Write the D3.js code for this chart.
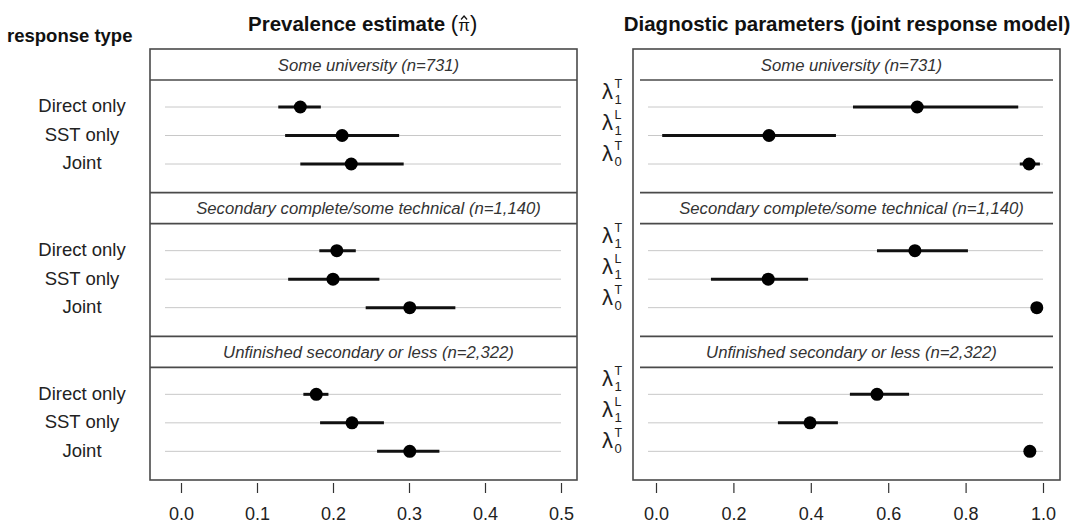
<!DOCTYPE html>
<html>
<head>
<meta charset="utf-8">
<script src="https://cdn.jsdelivr.net/npm/d3@7"></script>
<style>
  html, body { margin: 0; padding: 0; background: #fff; }
  svg { display: block; font-family: "Liberation Sans", Arial, sans-serif; }
  .frame { fill: none; stroke: #4a4a4a; stroke-width: 1.6; }
  .sep { stroke: #4a4a4a; stroke-width: 1.6; }
  .guide { stroke: #c8c8c8; stroke-width: 1; }
  .ci { stroke: #111; stroke-width: 3; }
  .strip { font-style: italic; font-size: 16.7px; fill: #333; }
  .tick line { stroke: #333; stroke-width: 1.2; }
  .tick text { font-size: 18px; fill: #222; }
</style>
</head>
<body>
<svg id="chart" width="1077" height="527"></svg>
<script>
// education groups (panels) and rows
var groups = [
  'Some university (n=731)',
  'Secondary complete/some technical (n=1,140)',
  'Unfinished secondary or less (n=2,322)'
];
var responseTypes = ['Direct only', 'SST only', 'Joint'];
// diagnostic parameters: lambda with subscript / superscript
var paramSub = ['1', '1', '0'];
var paramSup = ['T', 'L', 'T'];

// prevalence estimates per group, rows in responseTypes order
var prevEst = [[0.157, 0.212, 0.224], [0.205, 0.200, 0.301], [0.178, 0.225, 0.301]];
var prevLo  = [[0.128, 0.137, 0.157], [0.182, 0.141, 0.243], [0.161, 0.183, 0.258]];
var prevHi  = [[0.184, 0.287, 0.293], [0.230, 0.261, 0.361], [0.194, 0.267, 0.340]];

// diagnostic parameter estimates per group
var paramEst = [[0.675, 0.292, 0.964], [0.669, 0.290, 0.984], [0.571, 0.398, 0.966]];
var paramLo  = [[0.509, 0.016, 0.940], [0.571, 0.142, 0.975], [0.501, 0.315, 0.955]];
var paramHi  = [[0.936, 0.465, 0.992], [0.806, 0.393, 0.992], [0.654, 0.470, 0.978]];

var prevTicks = [0, 0.1, 0.2, 0.3, 0.4, 0.5];
var paramTicks = [0, 0.2, 0.4, 0.6, 0.8, 1.0];

var svg = d3.select('#chart');
var plotTop = 49, plotBottom = 480, stripH = 31;

var yPanel = d3.scaleBand().domain(d3.range(groups.length)).range([plotTop, plotBottom]);
var yRow = d3.scalePoint().domain(d3.range(responseTypes.length)).range([58, 115]);
// lambda labels sit a bit higher and spread a little wider than the rows
var yLab = d3.scalePoint().domain(d3.range(paramSub.length)).range([50, 112]);

function rowsFor(est, lo, hi) {
  var out = [];
  groups.forEach(function (g, gi) {
    responseTypes.forEach(function (r, ri) {
      out.push({ g: gi, r: ri, est: est[gi][ri], lo: lo[gi][ri], hi: hi[gi][ri],
        y: yPanel(gi) + yRow(ri) });
    });
  });
  return out;
}

function drawPanel(opt) {
  var x = d3.scaleLinear().domain(opt.domain).range(opt.range);
  var g = svg.append('g');
  var data = rowsFor(opt.est, opt.lo, opt.hi);

  // frame
  g.append('rect').attr('class', 'frame')
    .attr('x', opt.left).attr('y', plotTop)
    .attr('width', opt.right - opt.left).attr('height', plotBottom - plotTop);

  // panel separators + strip lines
  groups.forEach(function (name, gi) {
    var t = yPanel(gi);
    if (gi > 0) {
      g.append('line').attr('class', 'sep')
        .attr('x1', opt.left + opt.inset).attr('x2', opt.right - opt.inset)
        .attr('y1', t).attr('y2', t);
    }
    g.append('line').attr('class', 'sep')
      .attr('x1', opt.left + opt.inset).attr('x2', opt.right - opt.inset)
      .attr('y1', t + stripH).attr('y2', t + stripH);
    g.append('text').attr('class', 'strip')
      .attr('x', (opt.left + opt.right) / 2 + 5).attr('y', t + stripH / 2)
      .attr('dy', '0.36em').attr('text-anchor', 'middle').text(name);
  });

  // guide lines
  g.selectAll('line.guide').data(data).join('line').attr('class', 'guide')
    .attr('x1', x(0) - opt.guidePad).attr('x2', x(opt.domain[1]))
    .attr('y1', function (d) { return d.y; }).attr('y2', function (d) { return d.y; });

  // intervals
  g.selectAll('line.ci').data(data).join('line').attr('class', 'ci')
    .attr('x1', function (d) { return x(d.lo); }).attr('x2', function (d) { return x(d.hi); })
    .attr('y1', function (d) { return d.y; }).attr('y2', function (d) { return d.y; });

  // points
  g.selectAll('circle').data(data).join('circle')
    .attr('cx', function (d) { return x(d.est); }).attr('cy', function (d) { return d.y; })
    .attr('r', 6.5).attr('fill', '#000');

  // axis (ticks only, no domain line)
  var ax = g.append('g').attr('transform', 'translate(0,' + (plotBottom + 3) + ')')
    .call(d3.axisBottom(x).tickValues(opt.ticks).tickFormat(d3.format('.1f'))
      .tickSize(10).tickPadding(14));
  ax.select('.domain').remove();

  opt.labels(g, data);
}

// left panel
drawPanel({
  left: 150, right: 577, inset: 0, guidePad: 16,
  domain: [0, 0.5], range: [181, 561], ticks: prevTicks,
  est: prevEst, lo: prevLo, hi: prevHi,
  labels: function (g, data) {
    g.selectAll('text.rl').data(data).join('text').attr('class', 'rl')
      .attr('x', 82).attr('y', function (d) { return d.y - 1; }).attr('dy', '0.35em')
      .attr('text-anchor', 'middle').style('font-size', '18.5px').attr('fill', '#222')
      .text(function (d) { return responseTypes[d.r]; });
  }
});

// right panel
drawPanel({
  left: 633, right: 1060, inset: 7, guidePad: 8,
  domain: [0, 1], range: [656, 1043], ticks: paramTicks,
  est: paramEst, lo: paramLo, hi: paramHi,
  labels: function (g, data) {
    var lab = g.selectAll('g.pl').data(data).join('g').attr('class', 'pl')
      .attr('transform', function (d) { return 'translate(602,' + (yPanel(d.g) + yLab(d.r)) + ')'; });
    lab.append('text').text('\u03bb').style('font-size', '22px').attr('fill', '#222');
    lab.append('text').attr('x', 12.5).attr('y', -11).style('font-size', '12.5px').attr('fill', '#222')
      .text(function (d) { return paramSup[d.r]; });
    lab.append('text').attr('x', 12.5).attr('y', 5).style('font-size', '13px').attr('fill', '#222')
      .text(function (d) { return paramSub[d.r]; });
  }
});

// titles
svg.append('text').attr('x', 7).attr('y', 42).style('font-size', '18.5px')
  .style('font-weight', 'bold').attr('fill', '#111').text('response type');

var t1 = svg.append('text').attr('x', 248).attr('y', 31).style('font-size', '20.5px').attr('fill', '#111');
t1.append('tspan').style('font-weight', 'bold').text('Prevalence estimate ');
t1.append('tspan').style('font-size', '22px').text('(');
t1.append('tspan').style('font-size', '17px').text('\u03c0');
t1.append('tspan').style('font-size', '22px').text(')');
// hat over pi, drawn as a small chevron
(function () {
  var node = t1.node();
  var n = node.getNumberOfChars();
  var ext = node.getExtentOfChar(n - 2);
  var cx = ext.x + ext.width / 2, y0 = ext.y;
  svg.append('path')
    .attr('d', 'M' + (cx - 3) + ',' + (y0 + 3.5) + 'L' + cx + ',' + y0 + 'L' + (cx + 3) + ',' + (y0 + 3.5))
    .attr('fill', 'none').attr('stroke', '#111').attr('stroke-width', 1.2);
})();

svg.append('text').attr('x', 847).attr('y', 31).attr('text-anchor', 'middle')
  .style('font-size', '20.5px').style('font-weight', 'bold').attr('fill', '#111')
  .text('Diagnostic parameters (joint response model)');
</script>
</body>
</html>
